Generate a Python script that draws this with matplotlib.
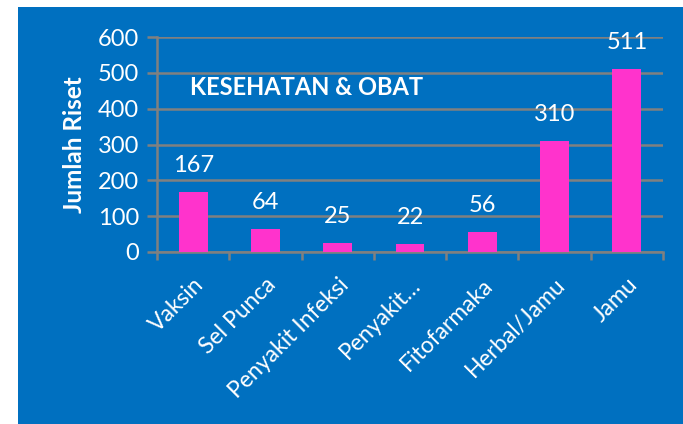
import matplotlib
matplotlib.use('Agg')
from matplotlib import pyplot as plt

kategori = ['Vaksin', 'Sel Punca', 'Penyakit Infeksi', 'Penyakit…', 'Fitofarmaka', 'Herbal/Jamu', 'Jamu']
jumlah = [167, 64, 25, 22, 56, 310, 511]
yticks = [0, 100, 200, 300, 400, 500, 600]

biru = '#0070C0'
pink = '#FF33CC'
abu = '#808080'
plt.rcParams['font.family'] = ['Lato', 'DejaVu Sans']

fig = plt.figure(figsize=(6.83, 4.24), dpi=100)
fig.patch.set_facecolor('white')
# kotak biru latar belakang
fig.patches.append(plt.Rectangle((18/683, 0), 665/683, 417/424, transform=fig.transFigure,
                                 facecolor=biru, edgecolor='none', zorder=-10))

ax = fig.add_axes([157/683, 1 - 252/424, 506/683, 215/424])
ax.set_facecolor(biru)
x = range(len(kategori))
ax.bar(x, jumlah, width=0.4, color=pink, zorder=3)
ax.set_xlim(-0.5, len(kategori) - 0.5)
ax.set_ylim(0, 600)
ax.set_yticks(yticks)
ax.yaxis.grid(True, color=abu, linewidth=1.8, zorder=0)
ax.set_axisbelow(True)
for s in ['top', 'right']:
    ax.spines[s].set_visible(False)
for s in ['left', 'bottom']:
    ax.spines[s].set_color(abu)
    ax.spines[s].set_linewidth(1.8)

ax.set_xticks([i - 0.5 for i in range(len(kategori) + 1)])
ax.set_xticklabels([])
ax.set_xticks(list(x), minor=True)
ax.set_xticklabels(kategori, minor=True, rotation=45, ha='right', va='top',
                   rotation_mode='anchor', color='white', fontsize=16.5)
ax.tick_params(axis='x', which='minor', length=0, pad=16)
ax.tick_params(axis='x', which='major', length=6, color=abu, width=1.8, direction='out')
ax.tick_params(axis='y', length=7, color=abu, width=1.8, labelcolor='white', labelsize=17, pad=6)

for i, v in enumerate(jumlah):
    ax.annotate(str(v), (i, v), xytext=(0, 19), textcoords='offset points',
                ha='center', va='center', color='white', fontsize=17)

ax.set_ylabel('Jumlah Riset', color='white', fontsize=17.5, fontweight='bold', labelpad=8)
ax.text(0.065, 0.765, 'KESEHATAN & OBAT', transform=ax.transAxes, color='white',
        fontsize=17, fontweight='bold', va='center')

plt.savefig('out.png', dpi=100, facecolor=fig.get_facecolor())
